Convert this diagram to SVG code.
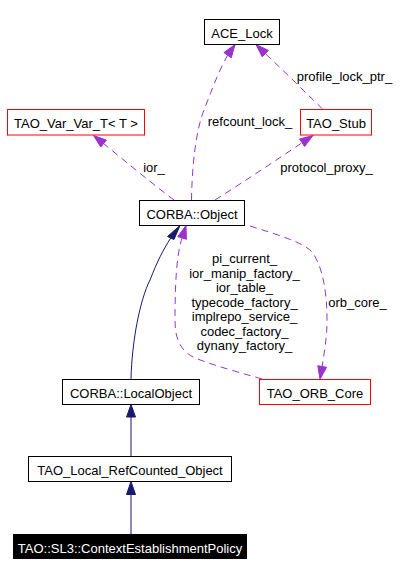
<svg xmlns="http://www.w3.org/2000/svg" width="419" height="576" viewBox="0 0 419 576">
<style>
  .box { fill: #ffffff; stroke: #000000; stroke-width: 1; }
  .red { fill: #ffffff; stroke: #ff0000; stroke-width: 1; }
  .self { fill: #000000; stroke: #000000; stroke-width: 1; }
  text { font-family: "Liberation Sans", Arial, Helvetica, sans-serif; font-size: 13px; fill: #000000; text-anchor: middle; }
  .white { fill: #ffffff; }
  .inh { fill: none; stroke: #191970; stroke-width: 1; }
  .inhhead { fill: #191970; stroke: #191970; stroke-width: 1; }
  .use { fill: none; stroke: #9a32cd; stroke-width: 1; stroke-dasharray: 7,5; }
  .usehead { fill: #9a32cd; stroke: #9a32cd; stroke-width: 1; }
</style>
<rect width="419" height="576" fill="#ffffff"/>

<g id="connectors">
  <!-- refcount_lock_ -->
  <path class="use" d="M191.5,200 C192,165 196,130 204,110 C210,95 218,72 227.6,55.2"/>
  <polygon class="usehead" points="235,44.5 231.3,57.8 223.9,52.6"/>
  <text x="250" y="126">refcount_lock_</text>
  <!-- profile_lock_ptr_ -->
  <path class="use" d="M322.5,109 C305,92 285,72 265.3,53.6"/>
  <polygon class="usehead" points="256,44.5 268.4,50.4 262.2,56.8"/>
  <text x="344.5" y="81">profile_lock_ptr_</text>
  <!-- ior_ -->
  <path class="use" d="M174,200 C150,182 125,161 103.6,143.6"/>
  <polygon class="usehead" points="93.5,135.5 106.4,140.1 100.8,147.1"/>
  <text x="154" y="172">ior_</text>
  <!-- protocol_proxy_ -->
  <path class="use" d="M215,200 C245,181 275,161 302.1,142.7"/>
  <polygon class="usehead" points="313,135.5 304.6,146.5 299.6,139"/>
  <text x="326.5" y="172">protocol_proxy_</text>
  <!-- orb_core_ -->
  <path class="use" d="M250,226 C275,234 303,242 312,252 C322,265 327,290 327,320 C327,340 324,352 322.2,366.5"/>
  <polygon class="usehead" points="320,379.3 326.6,367.3 317.8,365.7"/>
  <text x="357.5" y="306.5">orb_core_</text>
  <!-- TAO_ORB_Core -> CORBA::Object -->
  <path class="use" d="M262,379 C245,374 215,366 195,358 C178,350 175,335 175,320 C175,290 176,255 182.1,237.9"/>
  <polygon class="usehead" points="186,225.5 186.4,239.3 177.8,236.6"/>
  <text x="244.5" y="263.3">pi_current_</text>
  <text x="244.5" y="277.7">ior_manip_factory_</text>
  <text x="244.5" y="292.2">ior_table_</text>
  <text x="244.5" y="306.7">typecode_factory_</text>
  <text x="244.5" y="321.1">implrepo_service_</text>
  <text x="244.5" y="335.6">codec_factory_</text>
  <text x="244.5" y="350">dynany_factory_</text>
  <!-- inheritance -->
  <path class="inh" d="M131,379 C132,340 140,300 150,280 C157,262 163,250 170.75,238"/>
  <polygon class="inhhead" points="180,225.5 174,239.5 167.5,236.5"/>
  <path class="inh" d="M131,456.5 L131,417"/>
  <polygon class="inhhead" points="131,404.5 135.5,417 126.5,417"/>
  <path class="inh" d="M131,534 L131,494.5"/>
  <polygon class="inhhead" points="131,481.5 135.5,494.5 126.5,494.5"/>
</g>

<g id="node-ACE_Lock">
  <rect class="box" x="204.5" y="19.5" width="75" height="25"/>
  <text x="242" y="37.5">ACE_Lock</text>
</g>
<g id="node-TAO_Var_Var_T">
  <rect class="red" x="7.5" y="109.5" width="137" height="25.5"/>
  <text x="76" y="127.5">TAO_Var_Var_T&lt; T &gt;</text>
</g>
<g id="node-TAO_Stub">
  <rect class="red" x="300.5" y="109.5" width="71" height="25.5"/>
  <text x="336" y="127.5">TAO_Stub</text>
</g>
<g id="node-CORBA_Object">
  <rect class="box" x="139.5" y="200.5" width="105" height="25"/>
  <text x="192" y="218.5">CORBA::Object</text>
</g>
<g id="node-CORBA_LocalObject">
  <rect class="box" x="62.5" y="379.5" width="137" height="25"/>
  <text x="131" y="397.5">CORBA::LocalObject</text>
</g>
<g id="node-TAO_ORB_Core">
  <rect class="red" x="259.5" y="379.5" width="111" height="25"/>
  <text x="315" y="397.5">TAO_ORB_Core</text>
</g>
<g id="node-TAO_Local_RefCounted_Object">
  <rect class="box" x="28.5" y="456.5" width="203" height="25"/>
  <text x="130" y="474.5">TAO_Local_RefCounted_Object</text>
</g>
<g id="node-ContextEstablishmentPolicy">
  <rect class="self" x="13.5" y="534.5" width="233" height="24"/>
  <text class="white" x="130" y="552.5">TAO::SL3::ContextEstablishmentPolicy</text>
</g>
</svg>
